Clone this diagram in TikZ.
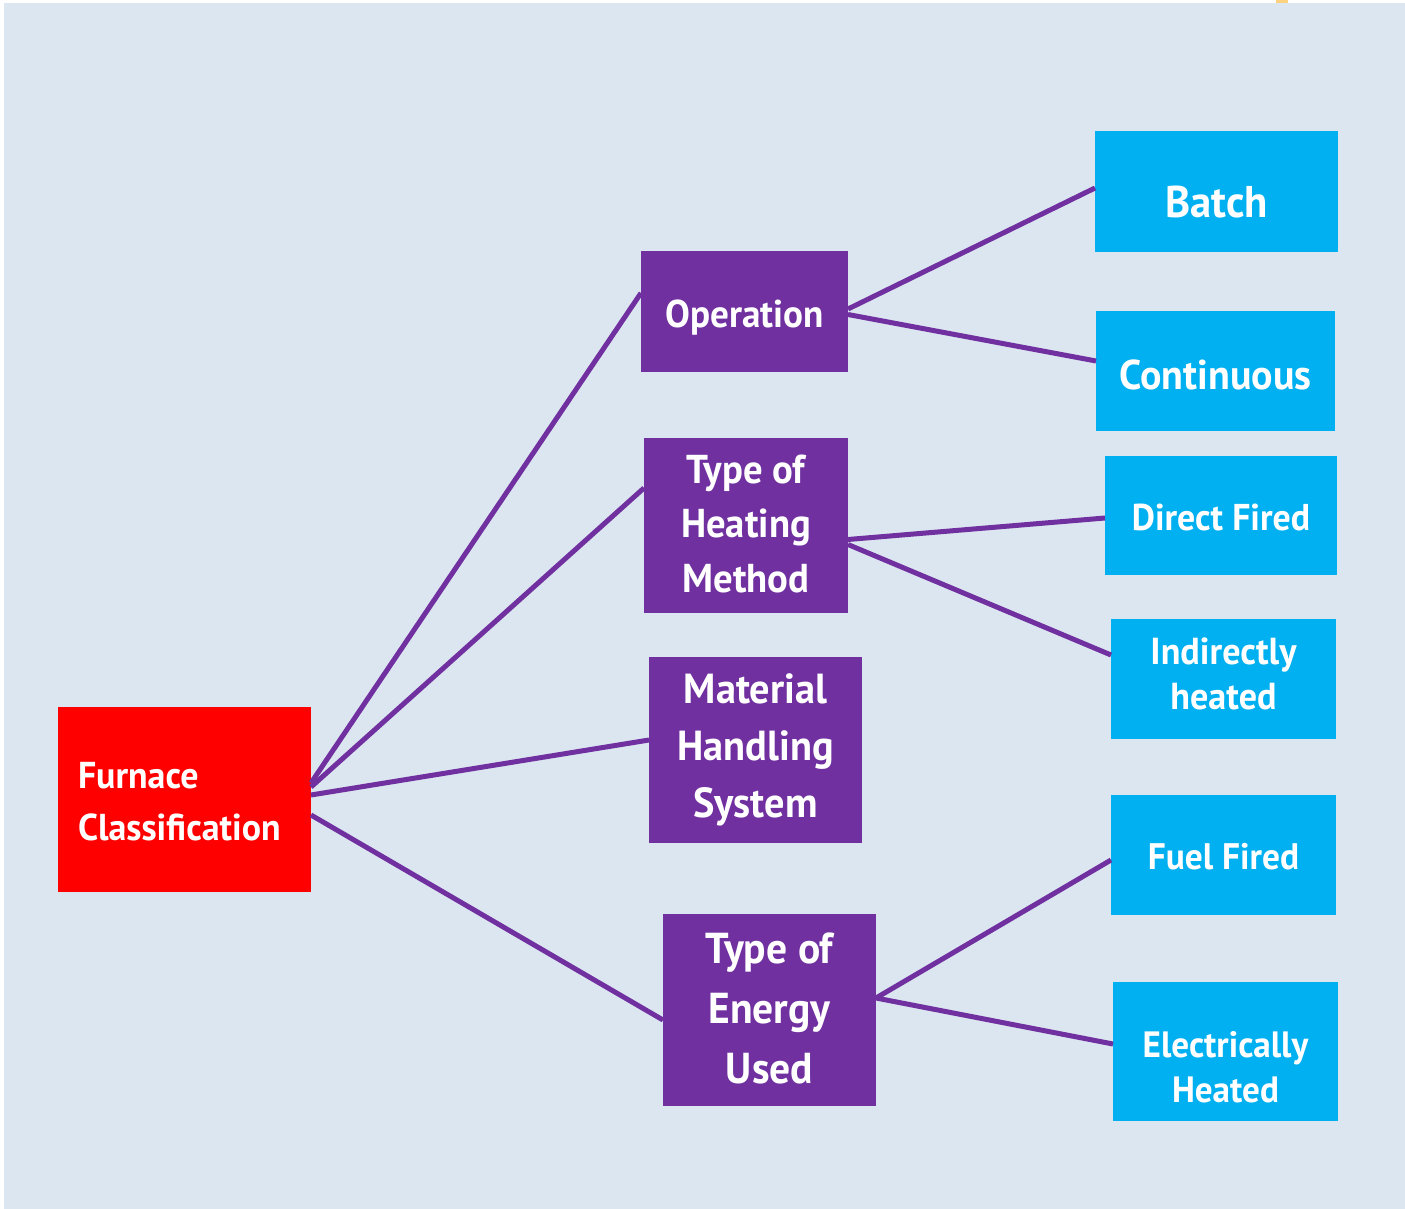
\documentclass[tikz,border=0pt]{standalone}
\usepackage{fontspec}
\setmainfont{PT Sans}[FakeStretch=0.96]
\usetikzlibrary{calc}
\definecolor{myred}{HTML}{FF0000}
\definecolor{mypurple}{HTML}{7030A0}
\definecolor{mycyan}{HTML}{00B0F0}
\definecolor{mybg}{HTML}{DCE6F1}
\definecolor{mymark}{HTML}{FFD27F}
\newcommand\fsz[2]{\fontsize{#1pt}{#2pt}\selectfont}
% #1 raise (pt), #2 width, #3 alignment, #4 lines
\newcommand\btxt[4]{\raisebox{#1pt}[0pt][0pt]{\makebox[#2pt][#3]{\begin{tabular}[t]{@{}#3@{}}#4\end{tabular}}}}
\tikzset{
  box/.style={rectangle, inner sep=0pt, outer sep=0pt, text=white, font=\bfseries},
  redbox/.style={box, fill=myred},
  purplebox/.style={box, fill=mypurple},
  cyanbox/.style={box, fill=mycyan},
  link/.style={draw=mypurple, line width=5pt}
}
\begin{document}
\begin{tikzpicture}[x=1pt, y=-1pt]
\useasboundingbox (0,0) rectangle (1405,1209);
\fill[white] (0,0) rectangle (1405,1209);
\fill[mybg] (4,3) rectangle (1405,1209);
\fill[mymark] (1276,0) rectangle (1288,3);

% root
\node[redbox, minimum width=253pt, minimum height=185pt] (furnace) at (184.5,799.5)
  {\fsz{37.4}{52}\btxt{11.5}{213}{l}{Furnace\\Classification}};

% middle level
\node[purplebox, minimum width=207pt, minimum height=121pt] (op) at (744.5,311.5)
  {\fsz{38.7}{54}\btxt{-15.5}{10}{c}{Operation}};
\node[purplebox, minimum width=204pt, minimum height=175pt] (heat) at (746,525.5)
  {\fsz{40.3}{54.5}\btxt{42.5}{10}{c}{Type of\\Heating\\Method}};
\node[purplebox, minimum width=213pt, minimum height=186pt] (mat) at (755.5,750)
  {\fsz{42}{57}\btxt{47}{10}{c}{Material\\Handling\\System}};
\node[purplebox, minimum width=213pt, minimum height=192pt] (energy) at (769.5,1010)
  {\fsz{43.3}{60}\btxt{47}{10}{c}{Type of\\Energy\\Used}};

% leaves
\node[cyanbox, minimum width=243pt, minimum height=121pt] (batch) at (1216.5,191.5)
  {\fsz{44.4}{50}\btxt{-26.5}{10}{c}{Batch}};
\node[cyanbox, minimum width=239pt, minimum height=120pt] (cont) at (1215.5,371)
  {\fsz{41.6}{50}\btxt{-18}{10}{c}{Continuous}};
\node[cyanbox, minimum width=232pt, minimum height=119pt] (direct) at (1221,515.5)
  {\fsz{37.3}{50}\btxt{-14.5}{10}{c}{Direct Fired}};
\node[cyanbox, minimum width=225pt, minimum height=120pt] (indirect) at (1223.5,679)
  {\fsz{37.6}{45}\btxt{15}{10}{c}{Indirectly\\heated}};
\node[cyanbox, minimum width=225pt, minimum height=120pt] (fuel) at (1223.5,855)
  {\fsz{36.9}{50}\btxt{-14}{10}{c}{Fuel Fired}};
\node[cyanbox, minimum width=225pt, minimum height=139pt] (elec) at (1225.5,1051.5)
  {\fsz{36.6}{45}\btxt{-5.5}{10}{c}{Electrically\\Heated}};

% connectors
\draw[link] ($(furnace.east)+(0,-16.5)$) -- ($(op.west)+(0,-18.5)$);
\draw[link] ($(furnace.east)+(0,-12.5)$) -- ($(heat.west)+(0,-37.5)$);
\draw[link] ($(furnace.east)+(0,-4.5)$) -- ($(mat.west)+(0,-10)$);
\draw[link] ($(furnace.east)+(0,15.5)$) -- ($(energy.west)+(0,10)$);
\draw[link] ($(op.east)+(0,-2.5)$) -- ($(batch.west)+(0,-3.5)$);
\draw[link] ($(op.east)+(0,3)$) -- ($(cont.west)+(0,-10)$);
\draw[link] ($(heat.east)+(0,14)$) -- ($(direct.west)+(0,2.5)$);
\draw[link] ($(heat.east)+(0,19)$) -- ($(indirect.west)+(0,-24)$);
\draw[link] ($(energy.east)+(0,-12)$) -- ($(fuel.west)+(0,5)$);
\draw[link] ($(energy.east)+(0,-12)$) -- ($(elec.west)+(0,-7.5)$);
\end{tikzpicture}
\end{document}
